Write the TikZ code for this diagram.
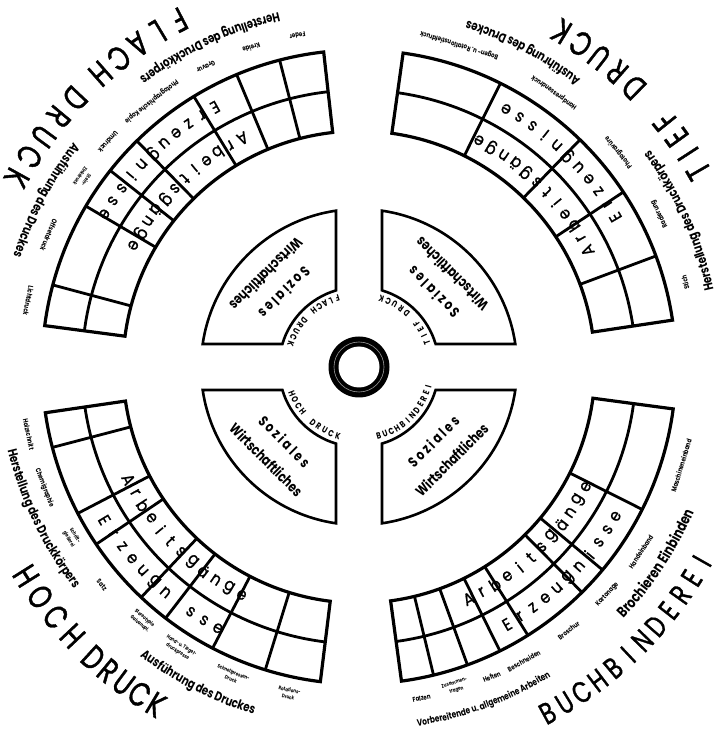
\documentclass[tikz,border=0pt]{standalone}
\usepackage{fontspec}
\setmainfont{Poppins}
\newfontfamily\labfont[FakeStretch=0.78]{Poppins}
\newfontfamily\cellfont[FakeStretch=0.9,FakeBold=1]{Poppins}
\newfontfamily\titlefont[FakeStretch=0.74,FakeBold=1.2]{Poppins}
\usetikzlibrary{decorations.text}
\def\Ra{236}\def\Rb{277}\def\Rc{317}
\newcommand\medfont{\labfont\bfseries\fontsize{13}{13}\selectfont}
\newcommand\medsmallfont{\labfont\bfseries\fontsize{9.5}{9.5}\selectfont}
\newcommand\medbigfont{\labfont\bfseries\fontsize{15}{15}\selectfont}
\tikzset{
  gridline/.style={line width=2.8pt},
  outerline/.style={line width=3.2pt},
  secline/.style={line width=2.6pt},
  bigletter/.style={font=\titlefont\fontsize{34}{34}\selectfont, inner sep=0pt},
  bbletter/.style={font=\titlefont\fontsize{30}{30}\selectfont, inner sep=0pt},
  cellletter/.style={font=\cellfont\fontsize{17}{17}\selectfont, inner sep=0pt},
  ringletter/.style={font=\labfont\bfseries\fontsize{9}{9}\selectfont, inner sep=0pt},
  tinylabel/.style={font=\labfont\bfseries\fontsize{7}{7.2}\selectfont, align=center, inner sep=0pt},
  tinierlabel/.style={font=\labfont\bfseries\fontsize{5.2}{7.4}\selectfont, align=center, inner sep=0pt},
  sectext/.style={font=\labfont\bfseries\fontsize{14.5}{14.5}\selectfont, inner sep=0pt},
}
\newcommand\spacedletters[5]{%
  \foreach \ch [count=\i from 0] in {#5} {%
    \pgfmathsetmacro\ang{#2+\i*(#3)}%
    \node[#4, rotate=\ang+90] at (\ang:#1) {\ch};
  }}
\newcommand\arctext[4]{%
  \pgfmathsetmacro\aS{#2-45}\pgfmathsetmacro\aE{#2+45}%
  \path[decorate, decoration={text along path, text align=center, text={|#3|#4}}]
    (\aS:#1) arc[start angle=\aS, end angle=\aE, radius=#1];}
\newcommand\tinylab[3][tinylabel]{%
  \pgfmathsetmacro\tla{#2}%
  \node[#1, rotate=\tla+90] at (\tla:337) {#3};}
\newcommand\tinylabtwo[2]{%
  \pgfmathsetmacro\tla{#1}%
  \node[tinierlabel, rotate=\tla+90] at (\tla:334) {#2};}
\newcommand\gridsector[3]{%
  \draw[gridline] (#1:\Rb) arc[start angle=#1, end angle=#2, radius=\Rb];
  \foreach \a in {#3} \draw[gridline] (\a:\Ra) -- (\a:\Rc);
  \draw[outerline] (#1:\Ra) arc[start angle=#1, end angle=#2, radius=\Ra] -- (#2:\Rc)
     arc[start angle=#2, end angle=#1, radius=\Rc] -- cycle;}
\newcommand\innersector[1]{%
  \pgfmathsetmacro\oA{#1+8.37}\pgfmathsetmacro\oB{#1+81.63}%
  \pgfmathsetmacro\iA{#1+16.7}\pgfmathsetmacro\iB{#1+73.3}%
  \draw[secline] (\oA:158) arc[start angle=\oA, end angle=\oB, radius=158]
     -- (\iB:80) arc[start angle=\iB, end angle=\iA, radius=80] -- cycle;}
\newcommand\sectorwords[1]{%
  \pgfmathsetmacro\sw{#1}%
  \node[sectext, rotate=\sw+90] at (\sw:105) {\addfontfeature{LetterSpace=18}Soziales};
  \node[sectext, rotate=\sw+90] at (\sw:131) {Wirtschaftliches};}
\begin{document}
\begin{tikzpicture}[x=1pt,y=1pt]
\useasboundingbox (-359,-371) rectangle (363,367);
\fill[white] (-359,-371) rectangle (363,367);

% central ring
\fill[black] (0,0) circle (30.5);
\fill[white] (0,0) circle (20.5);
\draw[white!60!black, line width=0.6pt] (0,0) circle (25);

% inner sectors
\innersector{90}
\innersector{0}
\innersector{180}
\innersector{270}
\sectorwords{135}
\sectorwords{45}
\sectorwords{225}
\sectorwords{315}
\spacedletters{72}{107.4}{5.36}{ringletter}{F,L,A,C,H,{},D,R,U,C,K}
\spacedletters{72}{19.4}{5.84}{ringletter}{T,I,E,F,{},D,R,U,C,K}
\spacedletters{72}{201.5}{5.72}{ringletter}{H,O,C,H,{},D,R,U,C,K}
\spacedletters{72}{-74}{5.3}{ringletter}{B,U,C,H,B,I,N,D,E,R,E,I}

% outer grids
\gridsector{96.4}{172.5}{104.5,112.7,121.4,134.5,141.7,149.5,165}
\gridsector{8.5}{82}{20.5,33.5,45.8,63.5}
\gridsector{188.3}{263}{194.7,207.5,214,226.6,232.4,242.5,252.8}
\gridsector{-82.3}{-7.6}{-76.4,-70,-63.6,-57.8,-45.3,-39.8,-26.7}

% cell words
\spacedletters{256.5}{117}{3.15}{cellletter}{A,r,b,e,i,t,s,g,ä,n,g,e}
\spacedletters{297}{119}{3}{cellletter}{E,r,z,e,u,g,n,i,s,s,e}
\spacedletters{256.5}{27}{3.19}{cellletter}{A,r,b,e,i,t,s,g,ä,n,g,e}
\spacedletters{297}{30.3}{3}{cellletter}{E,r,z,e,u,g,n,i,s,s,e}
\spacedletters{256.5}{206}{3.34}{cellletter}{A,r,b,e,i,t,s,g,ä,n,g,e}
\spacedletters{297}{211}{3.06}{cellletter}{E,r,z,e,u,g,n,i,s,s,e}
\spacedletters{256.5}{-64.7}{3.35}{cellletter}{A,r,b,e,i,t,s,g,ä,n,g,e}
\spacedletters{297}{-60.1}{2.99}{cellletter}{E,r,z,e,u,g,n,i,s,s,e}

% tiny column labels
\tinylab{100.5}{Feder}
\tinylab{108.6}{Kreide}
\tinylab{117}{Gravur}
\tinylab{128}{Photographische Kopie}
\tinylab{138.1}{Umdruck}
\tinylabtwo{145.6}{Stein-\\Zinkdruck}
\tinylab{157}{Offsetdruck}
\tinylab{168.7}{Lichtdruck}
\tinylab{14.5}{Stich}
\tinylab{27}{Radierung}
\tinylab{39.6}{Photogravüre}
\tinylab{54.6}{Handpressendruck}
\tinylab{72.7}{Bogen- u. Rotationstiefdruck}
\tinylab{191.5}{Holzschnitt}
\tinylab{201}{Chemigraphie}
\tinylabtwo{210.7}{Schrift-\\gießerei}
\tinylab{220.3}{Satz}
\tinylabtwo{229.5}{Stereotypie\\Galvanopl.}
\tinylabtwo{237.5}{Hand- u. Tiegel-\\druckpresse}
\tinylabtwo{247.7}{Schnellpressen-\\Druck}
\tinylabtwo{257.9}{Rotations-\\Druck}
\tinylab{-79.3}{Falzen}
\tinylabtwo{-73.2}{Zusammen-\\tragen}
\tinylab{-66.8}{Heften}
\tinylab{-60.7}{Beschneiden}
\tinylab{-51.5}{Broschur}
\tinylab{-42.5}{Kartonage}
\tinylab{-33.25}{Handeinband}
\tinylab{-17}{Maschineneinband}

% group labels
\arctext{363}{115}{\medfont}{Herstellung des Druckkörpers}
\arctext{363}{152}{\medfont}{Ausführung des Druckes}
\arctext{363}{24.5}{\medfont}{Herstellung des Druckkörpers}
\arctext{363}{62.5}{\medfont}{Ausführung des Druckes}
\arctext{361}{205.6}{\medfont}{Herstellung des Druckkörpers}
\arctext{363}{243}{\medfont}{Ausführung des Druckes}
\arctext{364}{-69.5}{\medsmallfont}{Vorbereitende u. allgemeine Arbeiten}
\arctext{365}{-33.5}{\medbigfont}{Brochieren Einbinden}

% big titles
\spacedletters{391}{117.4}{3.5}{bigletter}{F,L,A,C,H}
\spacedletters{391}{136.6}{3.62}{bigletter}{D,R,U,C,K}
\spacedletters{392}{30}{2.93}{bigletter}{T,I,E,F}
\spacedletters{392}{45.5}{3.35}{bigletter}{D,R,U,C,K}
\spacedletters{393}{212.1}{3.7}{bigletter}{H,O,C,H}
\spacedletters{394}{227.6}{2.85}{bigletter}{D,R,U,C,K}
\spacedletters{394}{-61.4}{2.9}{bbletter}{B,U,C,H,B,I,N,D,E,R,E,I}
\end{tikzpicture}
\end{document}
